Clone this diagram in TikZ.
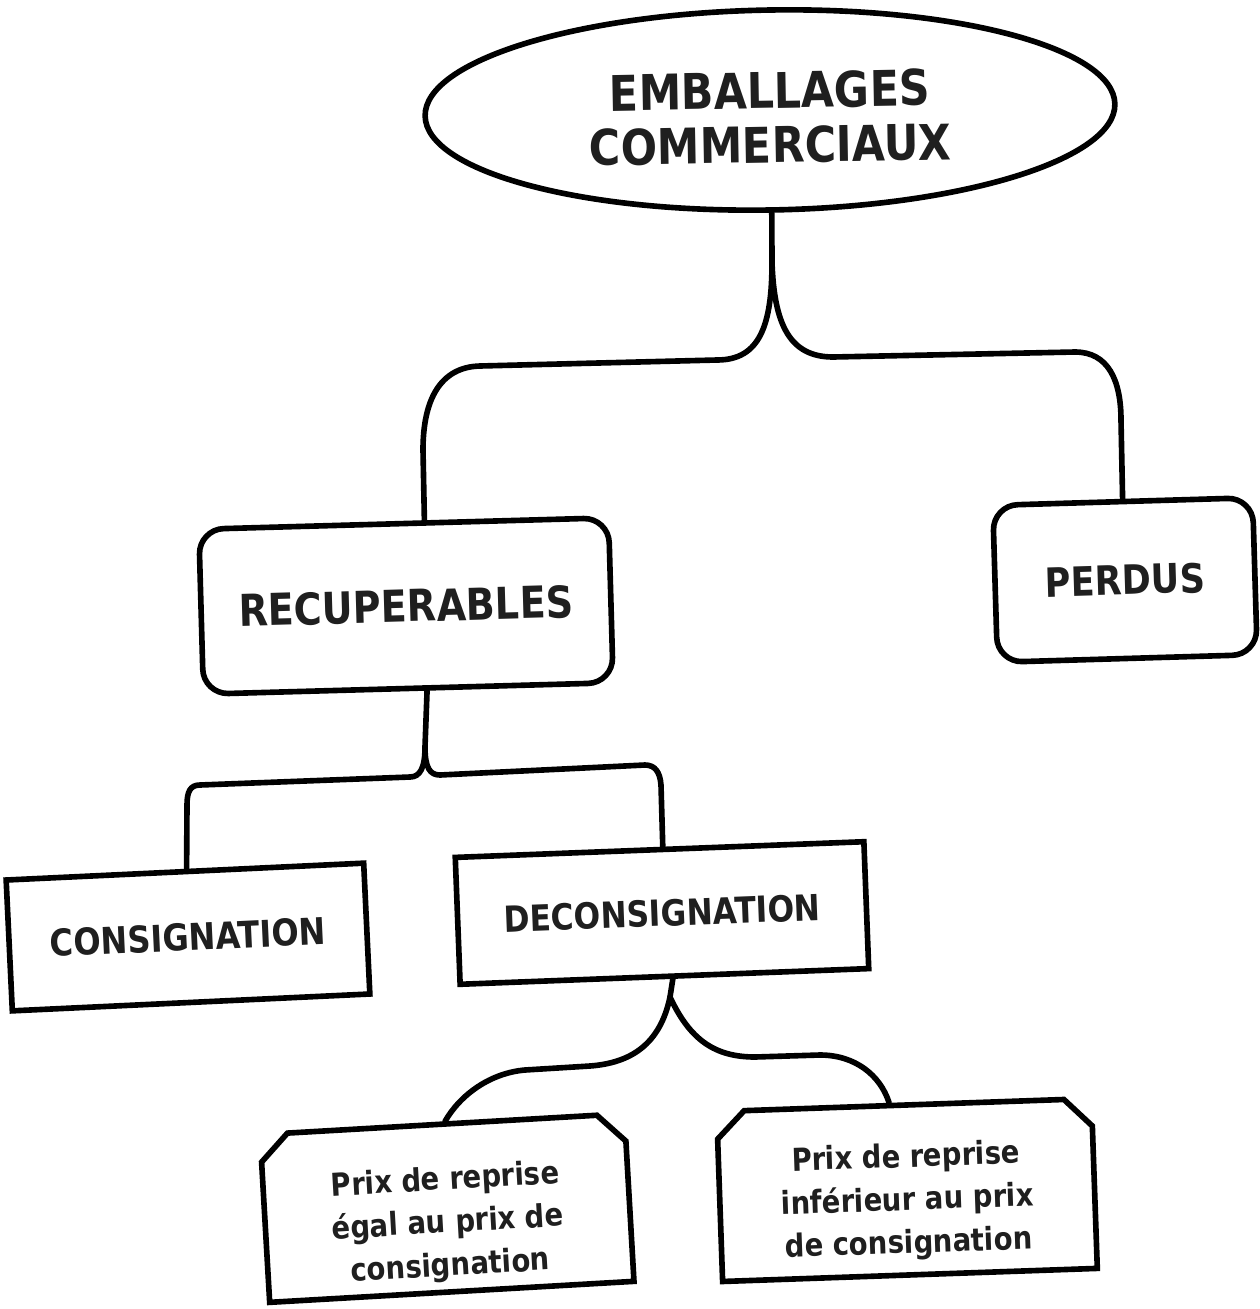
\documentclass[tikz,border=0pt]{standalone}
\usepackage{fontspec}
\newfontfamily\lblfont{DejaVu Sans}[FakeStretch=0.87]
\usetikzlibrary{shapes.geometric,shapes.misc,calc}

\begin{document}
\begin{tikzpicture}[x=0.02cm,y=-0.02cm,
  every node/.style={line width=3.2pt, inner sep=0pt, text=black!88},
  link/.style={line width=3.2pt, line cap=round, line join=round},
  headbox/.style={draw, ellipse, minimum width=13.8cm, minimum height=4cm, align=center,
    text height=60pt, text depth=0pt, font=\lblfont\bfseries\fontsize{28}{31}\selectfont},
  roundbox/.style={draw, rectangle, rounded corners=0.5cm},
  plainbox/.style={draw, rectangle},
  cutbox/.style={draw, chamfered rectangle, chamfered rectangle corners={north west,north east},
    chamfered rectangle xsep=0.26cm, chamfered rectangle ysep=0.29cm, align=center,
    text depth=0pt, font=\lblfont\bfseries\fontsize{18}{24.5}\selectfont}]

\useasboundingbox (0,0) rectangle (1259,1309);

% boxes
\node[headbox, rotate=1] (top) at (770,110) {EMBALLAGES\\COMMERCIAUX};
\node[roundbox, rotate=1.6, minimum width=8.2cm, minimum height=3.3cm,
  font=\lblfont\bfseries\fontsize{25}{30}\selectfont] (recup) at (406,606) {RECUPERABLES};
\node[roundbox, rotate=1.7, minimum width=5.2cm, minimum height=3.14cm,
  font=\lblfont\bfseries\fontsize{23}{28}\selectfont] (perdus) at (1125,580) {PERDUS};
\node[plainbox, rotate=2.7, minimum width=7.16cm, minimum height=2.62cm,
  font=\lblfont\bfseries\fontsize{21}{25}\selectfont] (consig) at (188,937) {CONSIGNATION};
\node[plainbox, rotate=2.2, minimum width=8.18cm, minimum height=2.54cm,
  font=\lblfont\bfseries\fontsize{20.5}{25}\selectfont] (deconsig) at (662,913) {DECONSIGNATION};
\node[cutbox, rotate=3.3, minimum width=7.3cm, minimum height=3.36cm, text height=77pt]
  (egal) at (447,1208) {Prix de reprise\\égal au prix de\\consignation};
\node[cutbox, rotate=2.0, minimum width=7.5cm, minimum height=3.4cm, text height=72pt]
  (inf) at (907,1190) {Prix de reprise\\inférieur au prix\\de consignation};

% branch points
\coordinate (fork1) at (772,262);
\coordinate (fork2) at (425,747);
\coordinate (fork3) at (670,997);

% top level split
\draw[link] (top.south) -- (fork1)
  .. controls (772,325) and (760,360) .. (717,360) -- (480,366)
  .. controls (440,367) and (423,400) .. (423,450)
  -- ($(recup.north west)!0.55!(recup.north east)$);
\draw[link] (fork1)
  .. controls (774,325) and (790,357) .. (833,357) -- (1075,352)
  .. controls (1108,352) and (1121,380) .. (1121,420)
  -- ($(perdus.north west)!0.5!(perdus.north east)$);

% recuperables split
\draw[link] ($(recup.south west)!0.545!(recup.south east)$) -- (fork2)
  .. controls (425,768) and (420,777) .. (410,777) -- (200,785)
  .. controls (190,785) and (187,792) .. (187,805)
  -- ($(consig.north west)!0.505!(consig.north east)$);
\draw[link] (fork2)
  .. controls (425,768) and (430,775) .. (440,775) -- (645,765)
  .. controls (655,765) and (660,772) .. (661,785)
  -- ($(deconsig.north west)!0.508!(deconsig.north east)$);

% deconsignation split
\draw[link] ($(deconsig.south west)!0.52!(deconsig.south east)$) -- (fork3)
  .. controls (660,1045) and (630,1063) .. (590,1066) -- (525,1070)
  .. controls (490,1073) and (460,1095) .. ($(egal.north)+(3,0)$);
\draw[link] (fork3)
  .. controls (690,1040) and (715,1057) .. (755,1057) -- (820,1055)
  .. controls (855,1055) and (880,1075) .. ($(inf.north)+(-15,0)$);

\end{tikzpicture}
\end{document}
